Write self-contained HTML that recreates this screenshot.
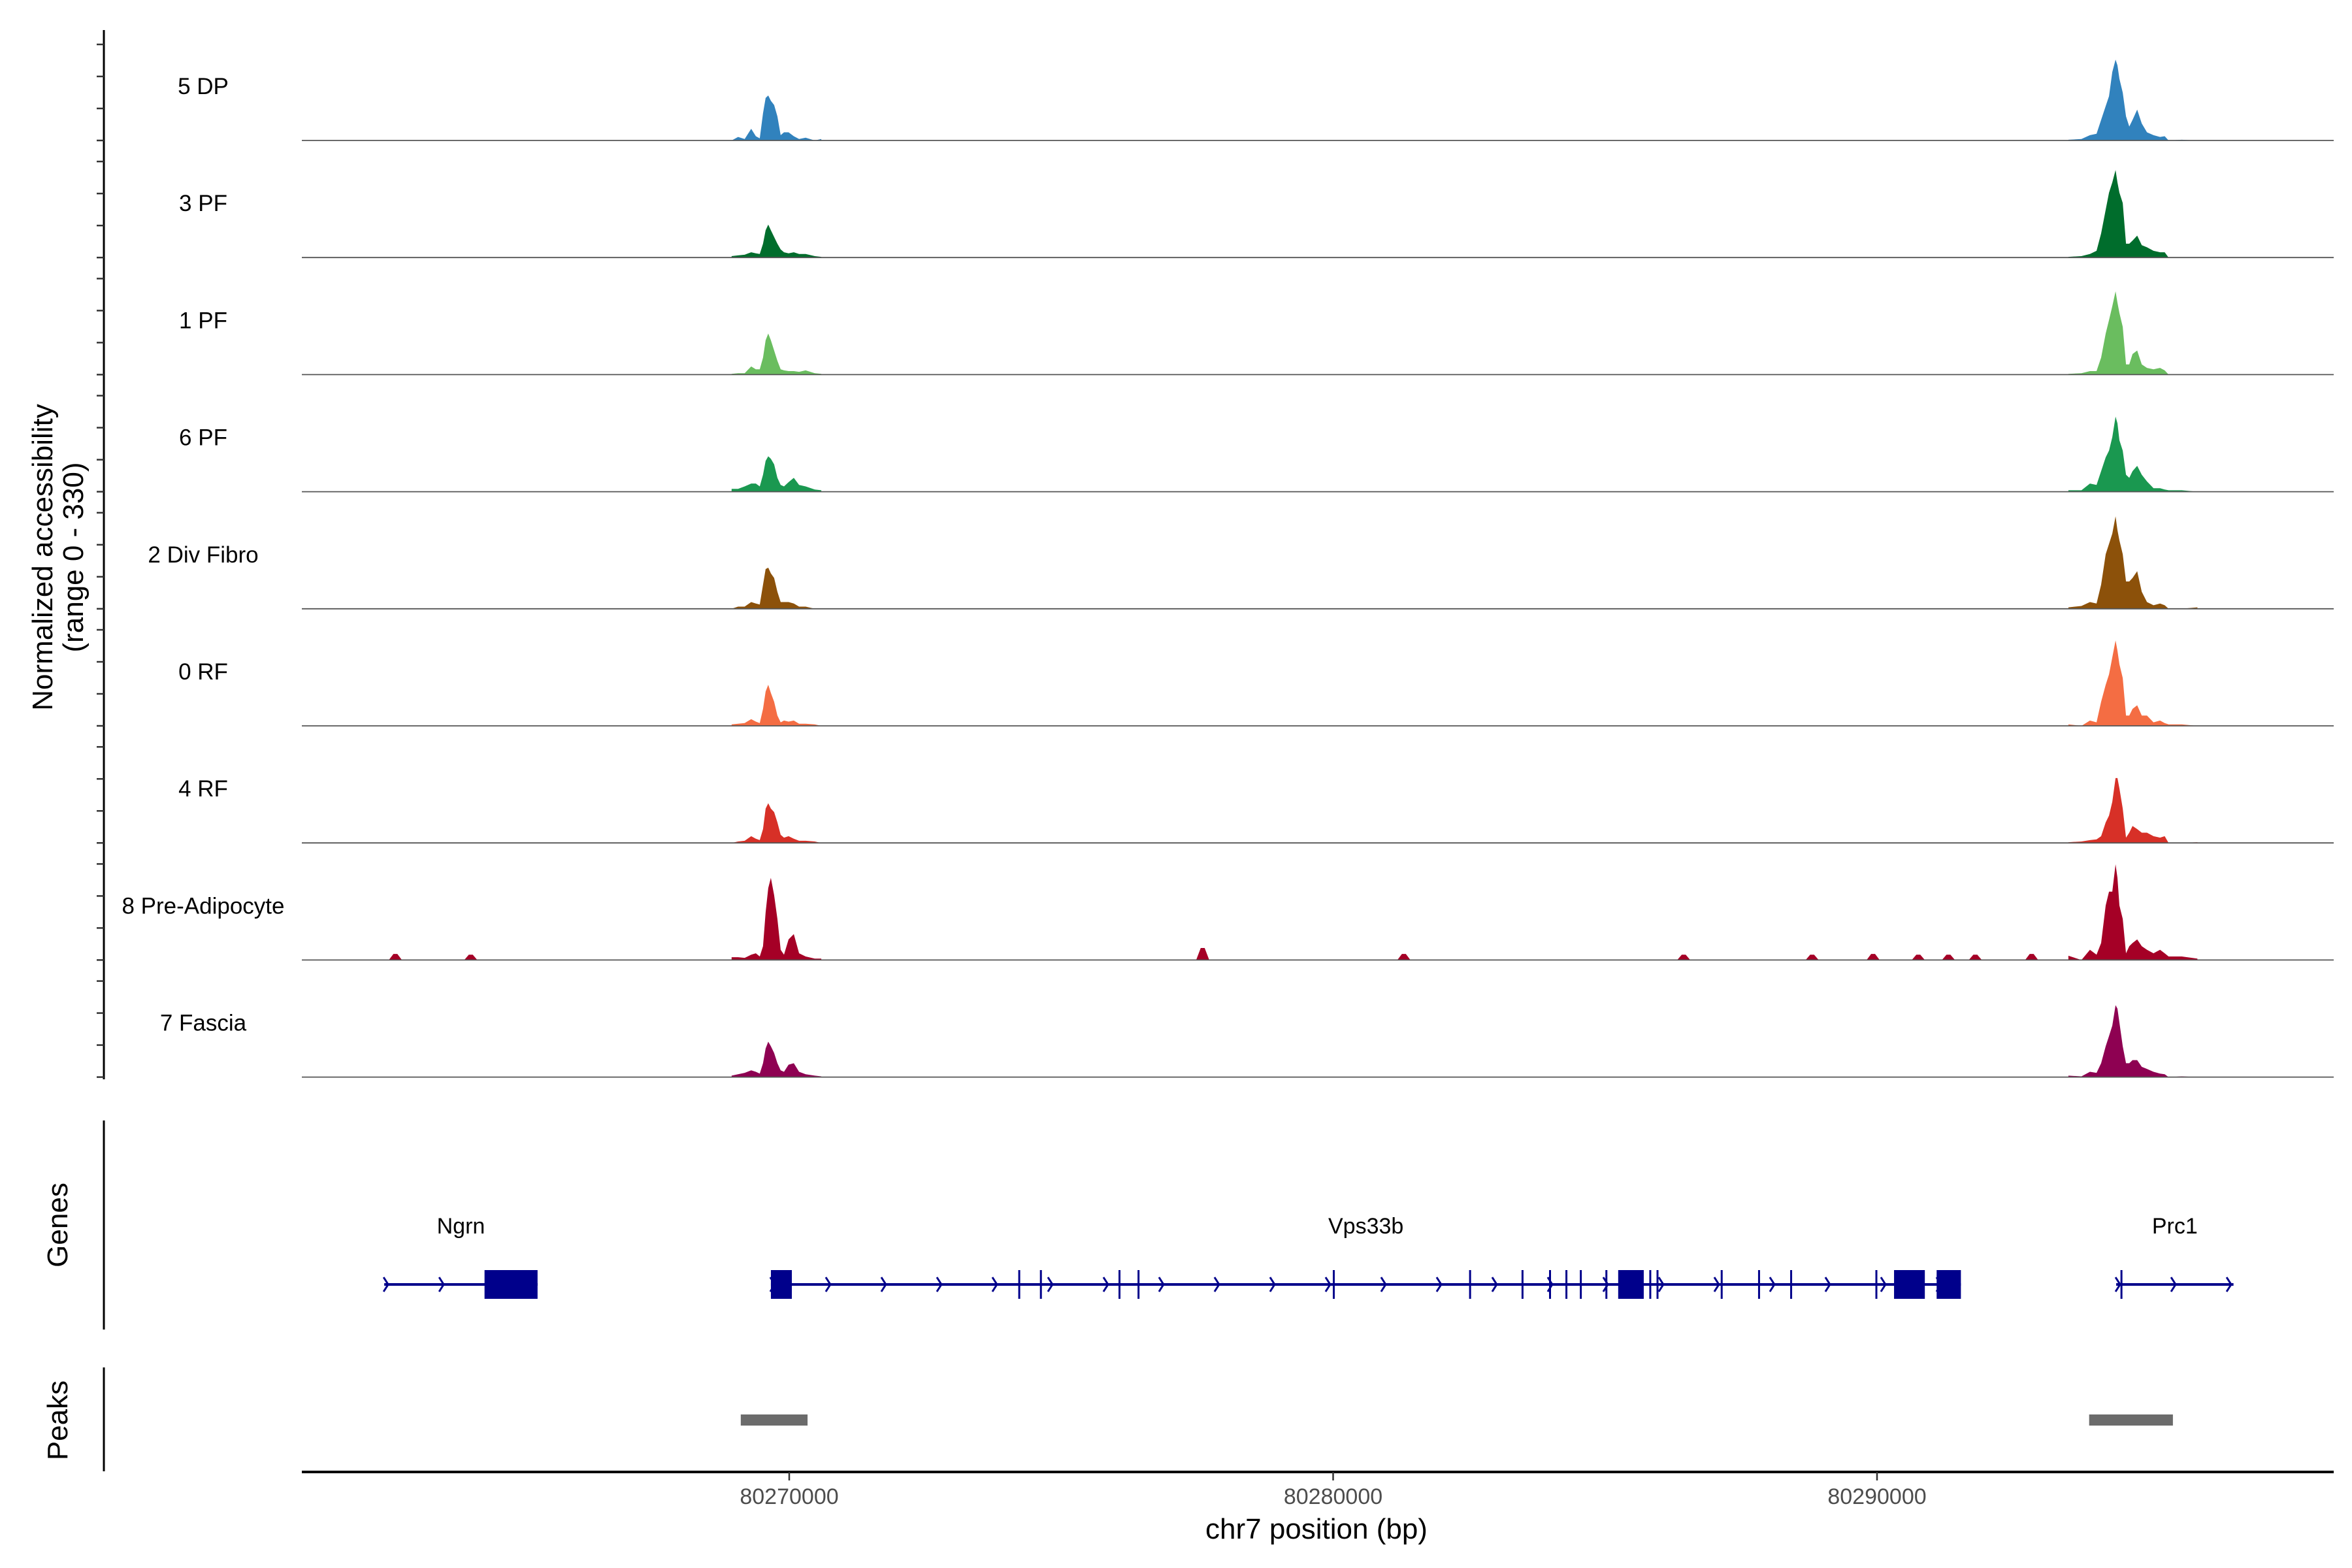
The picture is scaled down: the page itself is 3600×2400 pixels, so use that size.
<!DOCTYPE html>
<html><head><meta charset="utf-8"><style>
html,body{margin:0;padding:0;background:#fff;}
svg{display:block;font-family:"Liberation Sans",Arial,sans-serif;}
</style></head><body>
<svg id="chart" width="3600" height="2400" viewBox="0 0 3600 2400" xmlns="http://www.w3.org/2000/svg">
<rect width="3600" height="2400" fill="#fff"/>
<text transform="translate(80,853) rotate(-90)" text-anchor="middle" font-size="44" fill="#000">Normalized accessibility</text>
<text transform="translate(127,853) rotate(-90)" text-anchor="middle" font-size="44" fill="#000">(range 0 - 330)</text>
<text transform="translate(103,1875) rotate(-90)" text-anchor="middle" font-size="44" fill="#000">Genes</text>
<text transform="translate(103,2174) rotate(-90)" text-anchor="middle" font-size="44" fill="#000">Peaks</text>
<g id="g-axes"></g>
<g id="g-tracks"></g>
<g id="g-genes"></g>
<g id="g-peaks"></g>
<g id="g-xaxis"></g>
</svg>
<script>
const trackNames = ["5 DP","3 PF","1 PF","6 PF","2 Div Fibro","0 RF","4 RF","8 Pre-Adipocyte","7 Fascia"];
const trackColors = ["#3182bd","#006d2c","#6abd5f","#1a9850","#8c510a","#f46d43","#d73027","#a50026","#8e0152"];
// genomic positions (bp) of sampled coverage around peak 1 and peak 2
const peak1Pos = [80268940,80269060,80269181,80269301,80269386,80269458,80269518,80269566,80269614,80269663,80269723,80269783,80269843,80269904,80269988,80270084,80270181,80270301,80270470,80270590];
const peak2Pos = [80293518,80293759,80293915,80294036,80294120,80294204,80294265,80294325,80294385,80294421,80294457,80294518,80294578,80294638,80294698,80294783,80294867,80294963,80295084,80295204,80295289,80295361,80295602,80295891];
const v1_5DP=[0,10,4,33,12,6,77,120,127,112,100,68,15,23,23,12,4,8,0,4];
const v1_3PF=[4,6,8,15,12,10,39,77,93,77,58,39,23,15,12,15,10,10,4,2];
const v1_1PF=[2,4,4,23,15,15,48,97,116,97,68,39,15,12,10,10,8,12,4,2];
const v1_6PF=[8,8,15,23,23,15,48,87,100,93,77,39,19,15,27,39,19,15,6,4];
const v1_2DF=[0,6,6,19,15,12,68,112,116,100,87,48,19,19,19,15,6,6,0,0];
const v1_0RF=[4,6,8,19,12,8,48,97,116,93,68,29,10,15,12,15,6,6,4,0];
const v1_4RF=[0,4,6,19,12,8,39,97,112,97,87,58,23,15,19,12,6,6,4,0];
const v1_8PA=[8,8,6,15,19,10,39,135,203,232,183,116,29,15,58,73,19,10,4,4];
const v1_7FA=[4,8,12,19,15,10,39,81,100,87,68,39,19,15,35,39,15,8,4,2];
const v2_5DP=[2,4,15,19,58,97,125,193,228,212,174,135,68,39,58,87,48,23,15,10,12,0,2,0];
const v2_3PF=[2,4,10,19,68,135,183,212,247,212,183,154,39,39,48,62,35,29,19,15,15,0,0,0];
const v2_1PF=[2,4,10,10,48,116,154,193,235,203,174,135,29,29,58,68,29,19,15,19,12,0,0,0];
const v2_6PF=[4,4,23,19,58,97,116,154,212,193,145,116,48,39,58,73,48,29,10,10,6,4,4,0];
const v2_2DF=[4,8,19,15,68,154,183,212,261,222,193,154,77,77,87,106,48,19,10,15,10,0,0,4];
const v2_0RF=[4,0,15,10,68,116,145,193,241,212,174,135,29,29,48,58,29,29,10,15,8,4,4,0];
const v2_4RF=[2,4,8,10,19,58,77,116,183,183,154,97,15,29,48,39,29,29,19,15,19,0,0,2];
const v2_8PA=[12,0,29,15,48,154,193,193,270,232,154,116,19,39,48,58,39,29,19,29,19,10,10,4];
const v2_7FA=[4,2,15,12,39,87,116,145,203,193,154,87,39,39,48,48,29,23,15,10,8,0,2,0];
// small background bumps for the Pre-Adipocyte track
const minorPos = [80262759,80264145,80277602,80281301,80286446,80288807,80289928,80290759,80291313,80291807,80292843];
const minorVal = [17,15,34,17,15,15,17,15,15,15,17];
const peak1Values=[v1_5DP,v1_3PF,v1_1PF,v1_6PF,v1_2DF,v1_0RF,v1_4RF,v1_8PA,v1_7FA];
const peak2Values=[v2_5DP,v2_3PF,v2_1PF,v2_6PF,v2_2DF,v2_0RF,v2_4RF,v2_8PA,v2_7FA];
// genes
const geneNames = ["Ngrn","Vps33b","Prc1"];
const geneStarts = [80262554,80269663,80294397];
const geneEnds = [80265373,80291542,80296554];
const exonStarts = [80264398,80269663,80274229,80274627,80276072,80276422,80280012,80282518,80283482,80283988,80284289,80284554,80285024,80285241,80285831,80285964,80287144,80287831,80288421,80289988,80290313,80291096,80294494];
const exonEnds   = [80265373,80270048,80274229,80274627,80276072,80276422,80280012,80282518,80283482,80283988,80284289,80284554,80285024,80285711,80285831,80285964,80287144,80287831,80288421,80289988,80290879,80291542,80294494];
const peakStarts = [80269109,80293900];
const peakEnds = [80270337,80295440];
const xTicks = [80270000,80280000,80290000];

const NS="http://www.w3.org/2000/svg";
const X0=462,X1=3572,BPPX=0.08325;
function xs(bp){return 1208+(bp-80270000)*BPPX;}
const TH=179, YMAX=330, B0=215;
function base(i){return B0+i*179.2;}
function ys(i,v){return base(i)-v/YMAX*TH;}
function mk(tag,attrs,parent){const e=document.createElementNS(NS,tag);for(const k in attrs)e.setAttribute(k,attrs[k]);parent.appendChild(e);return e;}

const gA=document.getElementById('g-axes');
let ax=mk('line',{x1:159,y1:46,x2:159,y2:1652,stroke:'#000','stroke-width':3},gA);


for(let i=0;i<trackNames.length;i++){
  for(let k=0;k<4;k++){
    const y=base(i)-k*49;
    const t=mk('line',{x1:148,y1:y,x2:159,y2:y,stroke:'#333','stroke-width':2.5},gA);
    
    
  }
}
let ga=mk('line',{x1:159,y1:1715,x2:159,y2:2035,stroke:'#000','stroke-width':3},gA);


let pa=mk('line',{x1:159,y1:2093,x2:159,y2:2252,stroke:'#000','stroke-width':3},gA);



const gT=document.getElementById('g-tracks');
for(let i=0;i<trackNames.length;i++){
  const g=mk('g',{},gT);
  
  
  const lab=mk('text',{x:311,y:base(i)-83+12,'text-anchor':'middle','font-size':35,fill:'#000'},g);
  lab.textContent=trackNames[i];
  
  
  const draw=(pos,vals,nm)=>{
    let d='M'+xs(pos[0]).toFixed(1)+','+base(i);
    for(let j=0;j<pos.length;j++)d+=' L'+xs(pos[j]).toFixed(1)+','+ys(i,vals[j]).toFixed(1);
    d+=' L'+xs(pos[pos.length-1]).toFixed(1)+','+base(i)+' Z';
    const p=mk('path',{d:d,fill:trackColors[i]},g);
    
    
  };
  draw(peak1Pos,peak1Values[i],'coverage-peak-1');
  draw(peak2Pos,peak2Values[i],'coverage-peak-2');
  if(i===7){
    for(let j=0;j<minorPos.length;j++){
      const cx=xs(minorPos[j]);
      const p=mk('path',{d:`M${cx-10},${base(i)} L${cx-3},${ys(i,minorVal[j])} L${cx+3},${ys(i,minorVal[j])} L${cx+10},${base(i)} Z`,fill:trackColors[i]},g);
      
      
    }
  }
  const bl=mk('line',{x1:X0,y1:base(i),x2:X1,y2:base(i),stroke:'#555','stroke-width':1.8},g);
  
  
}

const gG=document.getElementById('g-genes');
const GY=1966, GC='#00008b';
for(let i=0;i<geneNames.length;i++){
  const x1=xs(geneStarts[i]),x2=xs(geneEnds[i]);
  const l=mk('line',{x1:x1,y1:GY,x2:x2,y2:GY,stroke:GC,'stroke-width':4},gG);
  
  
  for(let x=x1+4;x<=x2+1;x+=85){
    const c=mk('polyline',{points:`${x-5},${GY-11} ${x+2},${GY} ${x-5},${GY+11}`,fill:'none',stroke:GC,'stroke-width':3},gG);
    
    
  }
  const t=mk('text',{x:(x1+x2)/2,y:1888,'text-anchor':'middle','font-size':34,fill:'#000'},gG);
  t.textContent=geneNames[i];
  
  
}
for(let j=0;j<exonStarts.length;j++){
  const a=xs(exonStarts[j]),b=xs(exonEnds[j]);
  const w=Math.max(3,b-a);
  const r=mk('rect',{x:a-(b-a<3?1.5:0),y:GY-22,width:w,height:44,fill:GC},gG);
  
  
}

const gP=document.getElementById('g-peaks');
for(let j=0;j<peakStarts.length;j++){
  const r=mk('rect',{x:xs(peakStarts[j]),y:2165,width:xs(peakEnds[j])-xs(peakStarts[j]),height:17,fill:'#6b6b6b'},gP);
  
  
}

const gX=document.getElementById('g-xaxis');
const xl=mk('line',{x1:X0,y1:2253,x2:X1,y2:2253,stroke:'#000','stroke-width':4},gX);


for(const t of xTicks){
  const x=xs(t);
  const tk=mk('line',{x1:x,y1:2253,x2:x,y2:2266,stroke:'#333','stroke-width':2.5},gX);
  
  
  const tl=mk('text',{x:x,y:2302,'text-anchor':'middle','font-size':34,fill:'#4d4d4d'},gX);
  tl.textContent=t;
  
  
}
const xt=mk('text',{x:2015,y:2355,'text-anchor':'middle','font-size':44,fill:'#000'},gX);
xt.textContent='chr7 position (bp)';


</script>
</body></html>
